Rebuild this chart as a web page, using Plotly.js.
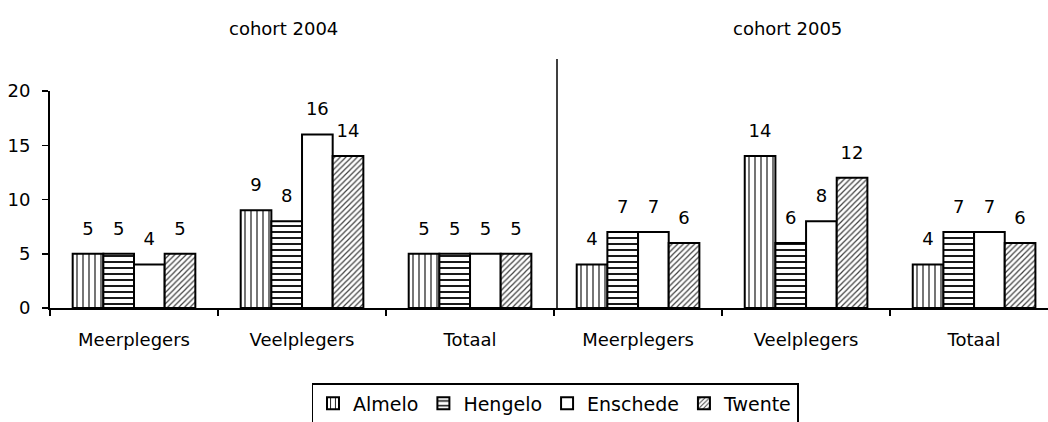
<!DOCTYPE html>
<html>
<head>
<meta charset="utf-8">
<script src="https://cdn.plot.ly/plotly-3.0.1.min.js"></script>
<style>
  html, body { margin: 0; padding: 0; background: #ffffff; }
  #chart { width: 1048px; height: 422px; }
</style>
</head>
<body>
<div id="chart"></div>
<script>
// ---- data ----
const categories = ['Meerplegers', 'Veelplegers', 'Totaal'];
const cohorts = ['cohort 2004', 'cohort 2005'];
const seriesNames = ['Almelo', 'Hengelo', 'Enschede', 'Twente'];
const almelo2004 = [5, 9, 5];
const almelo2005 = [4, 14, 4];
const hengelo2004 = [5, 8, 5];
const hengelo2005 = [7, 6, 7];
const enschede2004 = [4, 16, 5];
const enschede2005 = [7, 8, 7];
const twente2004 = [5, 14, 5];
const twente2005 = [6, 12, 6];
const yTicks = [0, 5, 10, 15, 20];

// ---- build ----
const FONT = 'DejaVu Sans';
const xKeys = cohorts.flatMap(c => categories.map(k => c + ' | ' + k));
const xLabels = cohorts.flatMap(() => categories);

const seriesValues = [
  almelo2004.concat(almelo2005),
  hengelo2004.concat(hengelo2005),
  enschede2004.concat(enschede2005),
  twente2004.concat(twente2005)
];
const patterns = [
  {shape: '|', fgcolor: '#000000', bgcolor: '#ffffff', size: 6, solidity: 0.18},
  {shape: '-', fgcolor: '#000000', bgcolor: '#ffffff', size: 6, solidity: 0.3},
  {shape: '', fgcolor: '#000000', bgcolor: '#ffffff'},
  {shape: '/', fgcolor: '#404040', bgcolor: '#ffffff', size: 4, solidity: 0.3}
];

const traces = [];
seriesNames.forEach((name, i) => {
  traces.push({
    type: 'bar',
    name: name,
    x: xKeys,
    y: seriesValues[i],
    marker: {
      color: '#ffffff',
      pattern: patterns[i],
      line: {color: '#000000', width: 2}
    },
    hoverinfo: 'skip'
  });
});
seriesNames.forEach((name, i) => {
  traces.push({
    type: 'scatter',
    mode: 'markers+text',
    name: name + ' labels',
    showlegend: false,
    x: xKeys,
    y: seriesValues[i],
    text: seriesValues[i].map(String),
    textposition: 'top center',
    textfont: {family: FONT, size: 18, color: '#000000'},
    marker: {size: 22, opacity: 0},
    cliponaxis: false,
    hoverinfo: 'skip'
  });
});

const layout = {
  width: 1048,
  height: 422,
  margin: {l: 50, r: 0, t: 91, b: 114},
  paper_bgcolor: '#ffffff',
  plot_bgcolor: '#ffffff',
  font: {family: FONT, size: 18, color: '#000000'},
  barmode: 'group',
  bargap: 0.27,
  scattermode: 'group',
  scattergap: 0.27,
  showlegend: true,
  legend: {
    orientation: 'h',
    xref: 'container', yref: 'container',
    x: 555 / 1048, xanchor: 'center',
    y: 1 - 383 / 422, yanchor: 'top',
    bordercolor: '#000000', borderwidth: 1.5,
    bgcolor: '#ffffff',
    font: {family: FONT, size: 19, color: '#000000'},
    traceorder: 'normal'
  },
  xaxis: {
    type: 'category',
    range: [-0.5, 5.44],
    tickmode: 'array',
    tickvals: xKeys,
    ticktext: xLabels,
    tickson: 'boundaries',
    ticks: 'outside',
    ticklen: 6,
    tickwidth: 1.5,
    tickcolor: '#000000',
    ticklabelstandoff: 14,
    showline: true,
    linecolor: '#000000',
    linewidth: 2,
    showgrid: false,
    zeroline: false,
    fixedrange: true
  },
  yaxis: {
    range: [0, 20],
    tickmode: 'array',
    tickvals: yTicks,
    ticks: 'outside',
    ticklen: 6,
    tickwidth: 1.5,
    tickcolor: '#000000',
    ticklabelstandoff: 8,
    showline: true,
    linecolor: '#000000',
    linewidth: 2,
    showgrid: false,
    zeroline: false,
    fixedrange: true
  },
  shapes: [{
    type: 'line',
    xref: 'paper', yref: 'paper',
    x0: (557 - 50) / 998, x1: (557 - 50) / 998,
    y0: 0, y1: (308 - 59) / 217,
    line: {color: '#000000', width: 1.5}
  }],
  annotations: cohorts.map((c, i) => ({
    text: c,
    xref: 'paper', yref: 'paper',
    x: i === 0 ? (283 - 50) / 998 : (787 - 50) / 998,
    y: (308 - 28) / 217,
    xanchor: 'center', yanchor: 'middle',
    showarrow: false,
    font: {family: FONT, size: 18, color: '#000000'}
  }))
};

Plotly.newPlot('chart', traces, layout, {displayModeBar: false, staticPlot: true});
</script>
</body>
</html>
